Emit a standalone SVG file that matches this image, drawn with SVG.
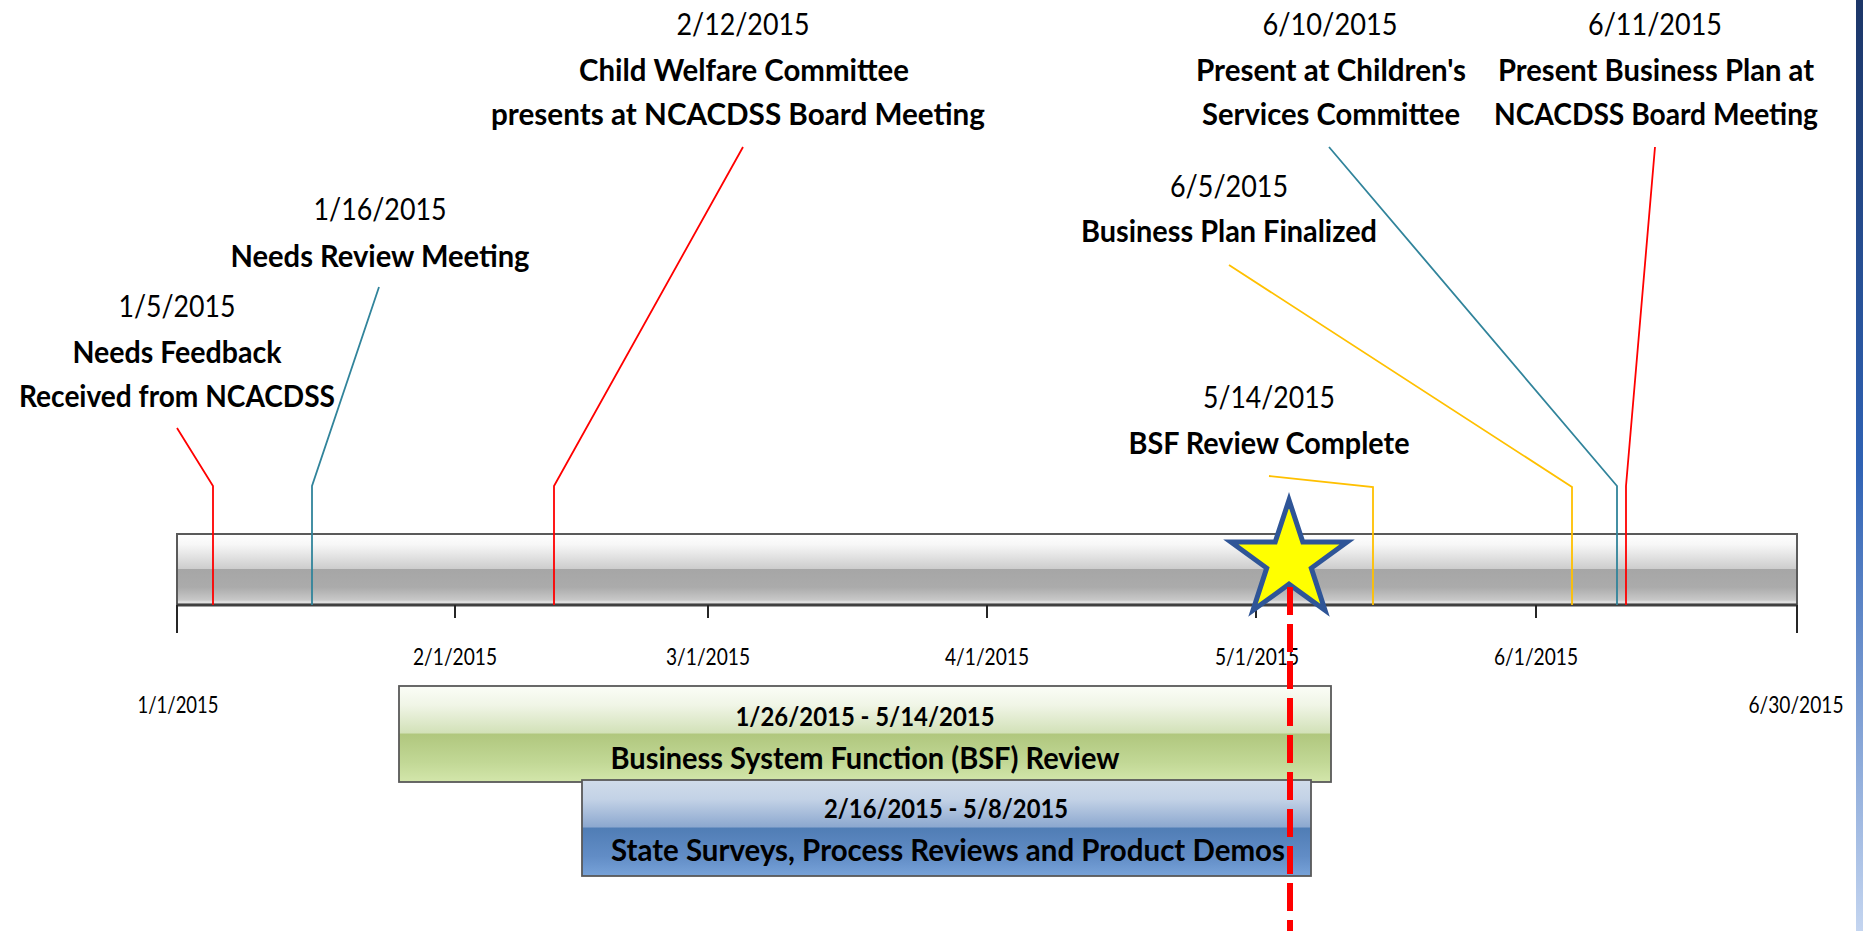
<svg xmlns="http://www.w3.org/2000/svg" width="1863" height="931" viewBox="0 0 1863 931">
<defs>
<linearGradient id="gBar" x1="0" y1="0" x2="0" y2="1">
<stop offset="0" stop-color="#ffffff"/><stop offset="0.15" stop-color="#f7f7f7"/><stop offset="0.49" stop-color="#cdcdcd"/><stop offset="0.5" stop-color="#a6a6a6"/><stop offset="0.75" stop-color="#ababab"/><stop offset="0.93" stop-color="#c8c8c8"/><stop offset="0.96" stop-color="#e6e6e6"/><stop offset="1" stop-color="#bdbdbd"/>
</linearGradient>
<linearGradient id="gGreen" x1="0" y1="0" x2="0" y2="1">
<stop offset="0" stop-color="#fbfdf7"/><stop offset="0.2" stop-color="#f0f5e6"/><stop offset="0.49" stop-color="#d2e1b8"/><stop offset="0.5" stop-color="#b0c77e"/><stop offset="0.8" stop-color="#c2d896"/><stop offset="1" stop-color="#d3e6ab"/>
</linearGradient>
<linearGradient id="gBlue" x1="0" y1="0" x2="0" y2="1">
<stop offset="0" stop-color="#d0dcea"/><stop offset="0.2" stop-color="#c3d2e6"/><stop offset="0.49" stop-color="#8ca8cf"/><stop offset="0.5" stop-color="#507db5"/><stop offset="0.8" stop-color="#628dc6"/><stop offset="1" stop-color="#78a3d9"/>
</linearGradient>
<linearGradient id="gStrip" x1="0" y1="0" x2="0" y2="1">
<stop offset="0" stop-color="#1c3668"/><stop offset="0.5" stop-color="#2f62b4"/><stop offset="1" stop-color="#c4d5f0"/>
</linearGradient>
<style>
.date{font-family:Lato,"Liberation Sans",sans-serif;font-size:30px;fill:#000;text-anchor:middle}
.title{font-family:Lato,"Liberation Sans",sans-serif;font-size:31px;font-weight:bold;fill:#000;text-anchor:middle}
.axis{font-family:Lato,"Liberation Sans",sans-serif;font-size:23px;fill:#000;text-anchor:middle}
.bdate{font-family:Lato,"Liberation Sans",sans-serif;font-size:27px;font-weight:bold;fill:#000;text-anchor:middle}
.btitle{font-family:Lato,"Liberation Sans",sans-serif;font-size:31px;font-weight:bold;fill:#000;text-anchor:middle}
.lead{fill:none;stroke-width:1.8}
.red{stroke:#ff0000}
.teal{stroke:#31849b}
.yel{stroke:#ffc000}
.tick{stroke:#262626;stroke-width:2}
</style>
</defs>
<rect width="1863" height="931" fill="#ffffff"/>
<rect x="1856" y="0" width="7" height="931" fill="url(#gStrip)"/>

<g id="timeline">
<rect x="177" y="534" width="1620" height="71" fill="url(#gBar)" stroke="#5a5a5a" stroke-width="2"/>
<line x1="177" y1="605" x2="1797" y2="605" stroke="#404040" stroke-width="3"/>
<line class="tick" x1="177" y1="605" x2="177" y2="633"/>
<line class="tick" x1="1797" y1="605" x2="1797" y2="633"/>
<line class="tick" x1="455" y1="605" x2="455" y2="618"/>
<line class="tick" x1="708" y1="605" x2="708" y2="618"/>
<line class="tick" x1="987" y1="605" x2="987" y2="618"/>
<line class="tick" x1="1256" y1="605" x2="1256" y2="618"/>
<line class="tick" x1="1536" y1="605" x2="1536" y2="618"/>
<text class="axis" x="178" y="713" textLength="81" lengthAdjust="spacingAndGlyphs">1/1/2015</text>
<text class="axis" x="455" y="665" textLength="84" lengthAdjust="spacingAndGlyphs">2/1/2015</text>
<text class="axis" x="708" y="665" textLength="84" lengthAdjust="spacingAndGlyphs">3/1/2015</text>
<text class="axis" x="987" y="665" textLength="84" lengthAdjust="spacingAndGlyphs">4/1/2015</text>
<text class="axis" x="1257" y="665" textLength="84" lengthAdjust="spacingAndGlyphs">5/1/2015</text>
<text class="axis" x="1536" y="665" textLength="84" lengthAdjust="spacingAndGlyphs">6/1/2015</text>
<text class="axis" x="1796" y="713" textLength="95" lengthAdjust="spacingAndGlyphs">6/30/2015</text>
</g>

<g id="connectors">
<polyline class="lead red" points="177,428 213,486 213,605"/>
<polyline class="lead teal" points="379,287 312,486 312,605"/>
<polyline class="lead red" points="743,147 554,486 554,605"/>
<polyline class="lead yel" points="1269,476 1373,487 1373,605"/>
<polyline class="lead yel" points="1229,265 1572,487 1572,605"/>
<polyline class="lead teal" points="1329,147 1617,486 1617,605"/>
<polyline class="lead red" points="1655,147 1626,486 1626,605"/>
</g>

<g id="ev-0105">
<text class="date" x="177" y="317" textLength="117" lengthAdjust="spacingAndGlyphs">1/5/2015</text>
<text class="title" x="177" y="363" textLength="209" lengthAdjust="spacingAndGlyphs">Needs Feedback</text>
<text class="title" x="177" y="407" textLength="316" lengthAdjust="spacingAndGlyphs">Received from NCACDSS</text>
</g>
<g id="ev-0116">
<text class="date" x="380" y="220" textLength="133" lengthAdjust="spacingAndGlyphs">1/16/2015</text>
<text class="title" x="380" y="267" textLength="299" lengthAdjust="spacingAndGlyphs">Needs Review Meeting</text>
</g>
<g id="ev-0212">
<text class="date" x="743" y="35" textLength="133" lengthAdjust="spacingAndGlyphs">2/12/2015</text>
<text class="title" x="744" y="81" textLength="330" lengthAdjust="spacingAndGlyphs">Child Welfare Committee</text>
<text class="title" x="738" y="125" textLength="494" lengthAdjust="spacingAndGlyphs">presents at NCACDSS Board Meeting</text>
</g>
<g id="ev-0514">
<text class="date" x="1269" y="408" textLength="132" lengthAdjust="spacingAndGlyphs">5/14/2015</text>
<text class="title" x="1269" y="454" textLength="281" lengthAdjust="spacingAndGlyphs">BSF Review Complete</text>
</g>
<g id="ev-0605">
<text class="date" x="1229" y="197" textLength="118" lengthAdjust="spacingAndGlyphs">6/5/2015</text>
<text class="title" x="1229" y="242" textLength="296" lengthAdjust="spacingAndGlyphs">Business Plan Finalized</text>
</g>
<g id="ev-0610">
<text class="date" x="1330" y="35" textLength="135" lengthAdjust="spacingAndGlyphs">6/10/2015</text>
<text class="title" x="1331" y="81" textLength="270" lengthAdjust="spacingAndGlyphs">Present at Children's</text>
<text class="title" x="1331" y="125" textLength="258" lengthAdjust="spacingAndGlyphs">Services Committee</text>
</g>
<g id="ev-0611">
<text class="date" x="1655" y="35" textLength="134" lengthAdjust="spacingAndGlyphs">6/11/2015</text>
<text class="title" x="1656" y="81" textLength="316" lengthAdjust="spacingAndGlyphs">Present Business Plan at</text>
<text class="title" x="1656" y="125" textLength="324" lengthAdjust="spacingAndGlyphs">NCACDSS Board Meeting</text>
</g>

<g id="bsf-review">
<rect x="399" y="686" width="932" height="96" fill="url(#gGreen)" stroke="#595959" stroke-width="1.8"/>
<text class="bdate" x="865" y="726" textLength="259" lengthAdjust="spacingAndGlyphs">1/26/2015 - 5/14/2015</text>
<text class="btitle" x="865" y="769" textLength="509" lengthAdjust="spacingAndGlyphs">Business System Function (BSF) Review</text>
</g>
<g id="state-surveys">
<rect x="582" y="780" width="729" height="96" fill="url(#gBlue)" stroke="#595959" stroke-width="1.8"/>
<text class="bdate" x="946" y="818" textLength="244" lengthAdjust="spacingAndGlyphs">2/16/2015 - 5/8/2015</text>
<text class="btitle" x="948" y="861" textLength="674" lengthAdjust="spacingAndGlyphs">State Surveys, Process Reviews and Product Demos</text>
</g>

<g id="today-star">
<polygon points="1289,500 1302.8,542.1 1347.1,542.1 1311.3,568.1 1325,610.3 1289,584.2 1253,610.3 1266.7,568.1 1230.9,542.1 1275.2,542.1" fill="#ffff00" stroke="#2f5597" stroke-width="5" stroke-linejoin="miter" stroke-miterlimit="10"/>
<line x1="1290" y1="587" x2="1290" y2="931" stroke="#ff0000" stroke-width="6" stroke-dasharray="28 9"/>
</g>
</svg>
